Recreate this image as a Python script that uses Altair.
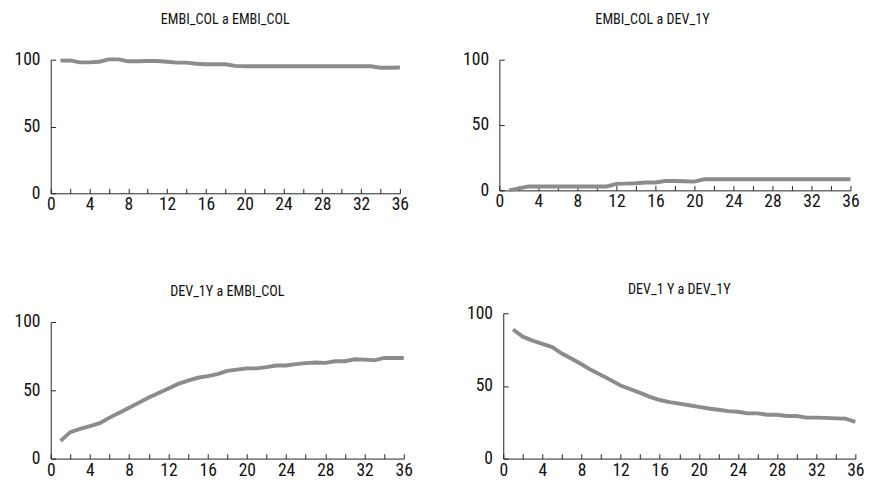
import altair as alt
import pandas as pd

# Horizon (months) and accumulated variance decomposition (%)
horizon = list(range(1, 37))

embi_to_embi = [99.3, 99.5, 98.0, 98.0, 98.5, 100.2, 100.2, 98.8, 98.8, 99.0,
                99.0, 98.5, 97.8, 97.8, 97.0, 96.6, 96.6, 96.6, 95.4, 95.1,
                95.1, 95.1, 95.1, 95.1, 95.1, 95.1, 95.1, 95.1, 95.1, 95.1,
                95.1, 95.1, 95.1, 94.0, 94.0, 94.2]

embi_to_dev = [0.0, 1.5, 3.0, 3.0, 3.0, 3.0, 3.0, 3.0, 3.0, 3.0,
               3.0, 5.0, 5.2, 5.5, 6.0, 6.0, 7.2, 7.2, 7.0, 6.7,
               8.5, 8.5, 8.5, 8.5, 8.5, 8.5, 8.5, 8.5, 8.5, 8.5,
               8.5, 8.5, 8.5, 8.5, 8.5, 8.5]

dev_to_embi = [13.0, 19.4, 21.8, 23.7, 26.0, 30.0, 33.6, 37.2, 41.0, 44.8,
               48.0, 51.4, 54.7, 57.1, 59.2, 60.4, 61.8, 64.2, 65.2, 66.1,
               66.1, 67.0, 68.2, 68.2, 69.2, 69.9, 70.4, 70.1, 71.3, 71.3,
               72.7, 72.5, 72.0, 73.7, 73.7, 73.7]

dev_to_dev = [88.8, 83.9, 81.2, 79.0, 76.7, 72.3, 68.7, 64.9, 60.9, 57.5,
              54.0, 50.3, 47.7, 45.2, 42.5, 40.3, 38.9, 37.8, 36.7, 35.6,
              34.5, 33.6, 32.7, 32.2, 31.1, 31.1, 30.2, 30.2, 29.3, 29.3,
              28.2, 28.2, 28.0, 27.7, 27.5, 25.3]

x_labels = [0, 4, 8, 12, 16, 20, 24, 28, 32, 36]
x_ticks = list(range(0, 37, 2))
y_labels = [0, 50, 100]

FONT = "Liberation Sans Narrow, Arial Narrow, Roboto Condensed, DejaVu Sans Condensed, Roboto, sans-serif"
LINE_COLOR = "#8c8c8c"
AXIS_COLOR = "#222222"


def panel(title, values, width, height, title_offset, title_dx=0, top_gap=0):
    df = pd.DataFrame({"h": horizon, "v": values})
    xs = alt.Scale(domain=[0, 36], nice=False, zero=False)
    if top_gap:
        ys = alt.Scale(domain=[0, 100], nice=False, range=[height, top_gap])
    else:
        ys = alt.Scale(domain=[0, 100], nice=False)

    # visible series with the labelled axes (no ticks)
    line = alt.Chart(df).mark_line(color=LINE_COLOR, strokeWidth=4).encode(
        x=alt.X("h:Q", scale=xs, axis=alt.Axis(
            values=x_labels, tickSize=0, labelPadding=3, title=None,
            domainColor=AXIS_COLOR, labelFlush=False, labelOverlap=False,
            grid=False)),
        y=alt.Y("v:Q", scale=ys, axis=alt.Axis(
            values=y_labels, tickSize=0, labelPadding=11, title=None,
            domainColor=AXIS_COLOR, labelFlush=False, grid=False)),
    )

    # transparent copy carrying inward-pointing tick marks
    ticks = alt.Chart(df).mark_line(opacity=0).encode(
        x=alt.X("h:Q", scale=xs, axis=alt.Axis(
            orient="top", offset=-height, values=x_ticks, tickSize=5,
            labels=False, domain=False, title=None, grid=False,
            tickColor=AXIS_COLOR)),
        y=alt.Y("v:Q", scale=ys, axis=alt.Axis(
            orient="right", offset=-width, values=y_labels, tickSize=5,
            labels=False, domain=False, title=None, grid=False,
            tickColor=AXIS_COLOR)),
    )

    return alt.layer(ticks, line).resolve_axis(
        x="independent", y="independent"
    ).properties(
        width=width, height=height,
        title=alt.TitleParams(title, offset=title_offset, dx=title_dx,
                              anchor="middle"),
    )


top = alt.hconcat(
    panel("EMBI_COL a EMBI_COL", embi_to_embi, 358, 137, 24),
    panel("EMBI_COL a DEV_1Y", embi_to_dev, 360, 134, 24, -23),
    spacing=55,
)
bottom = alt.hconcat(
    panel("DEV_1Y a EMBI_COL", dev_to_embi, 362, 149, 14, 0, 9),
    panel("DEV_1 Y a DEV_1Y", dev_to_dev, 361, 149, 7),
    spacing=55,
)

chart = alt.vconcat(top, bottom, spacing=70).properties(
    padding={"left": 14, "top": 6, "right": 5, "bottom": 5},
    background="white",
).configure_view(stroke=None).configure_axis(
    labelFont=FONT, labelFontSize=18, labelColor="#111111",
).configure_title(
    font=FONT, fontSize=14.5, fontWeight="normal", color="#111111",
)

chart.save("out.html", embed_options={"renderer": "svg", "actions": False})
